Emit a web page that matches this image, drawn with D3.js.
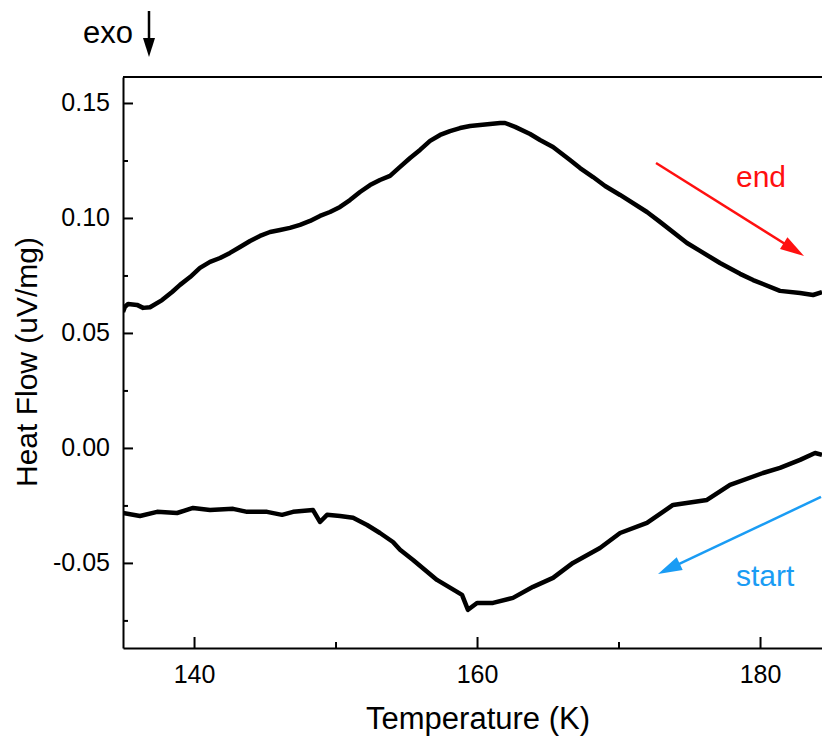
<!DOCTYPE html>
<html>
<head>
<meta charset="utf-8">
<script src="https://cdn.jsdelivr.net/npm/d3@7"></script>
<style>
  body { margin: 0; background: #fff; }
  svg text { font-family: "Liberation Sans", Arial, sans-serif; }
</style>
</head>
<body>
<script>
// curve (heating back = "end", top curve)
var endTemp = [134.98, 135.12, 135.34, 135.97, 136.40, 136.89, 137.74, 138.45, 139.01, 139.72,
  140.42, 141.13, 141.84, 142.54, 143.25, 143.96, 144.66, 145.37, 146.08, 146.78,
  147.49, 148.20, 148.90, 149.61, 150.32, 151.02, 151.73, 152.44, 153.14, 153.85,
  154.56, 155.27, 155.97, 156.68, 157.39, 158.09, 158.80, 159.51, 160.21, 160.92,
  161.63, 161.98, 162.69, 163.75, 164.45, 165.37, 166.57, 167.28, 168.20, 169.05,
  170.11, 172.01, 172.93, 174.84, 175.76, 177.17, 178.59, 179.51, 181.41, 182.83,
  183.75, 184.38];
var endFlow = [0.0591, 0.0614, 0.0626, 0.0622, 0.0609, 0.0612, 0.0643, 0.0678, 0.0709, 0.0743,
  0.0783, 0.0809, 0.0826, 0.0848, 0.0874, 0.0900, 0.0922, 0.0939, 0.0948, 0.0957,
  0.0970, 0.0987, 0.1009, 0.1026, 0.1048, 0.1078, 0.1113, 0.1143, 0.1165, 0.1183,
  0.1222, 0.1261, 0.1296, 0.1335, 0.1361, 0.1378, 0.1391, 0.1400, 0.1404, 0.1409,
  0.1413, 0.1413, 0.1396, 0.1365, 0.1339, 0.1309, 0.1252, 0.1217, 0.1178, 0.1139,
  0.1100, 0.1026, 0.0983, 0.0891, 0.0857, 0.0804, 0.0757, 0.0730, 0.0683, 0.0674,
  0.0665, 0.0678];

// cooling = "start", bottom curve
var startTemp = [134.98, 136.18, 137.39, 138.80, 139.93, 141.13, 142.76, 143.75, 145.16, 146.22,
  147.00, 148.41, 148.90, 149.40, 150.32, 151.24, 152.23, 153.14, 154.06, 154.56,
  155.48, 157.17, 158.59, 158.94, 159.36, 160.00, 161.13, 162.54, 163.96, 165.37,
  166.78, 168.69, 170.11, 172.01, 173.85, 176.25, 177.88, 180.21, 181.41, 182.83,
  183.89, 184.38];
var startFlow = [-0.0283, -0.0296, -0.0278, -0.0283, -0.0261, -0.0270, -0.0265, -0.0278, -0.0278, -0.0291,
  -0.0278, -0.0270, -0.0322, -0.0291, -0.0296, -0.0304, -0.0335, -0.0370, -0.0409, -0.0443,
  -0.0487, -0.0574, -0.0626, -0.0639, -0.0704, -0.0674, -0.0674, -0.0652, -0.0604, -0.0565,
  -0.0500, -0.0435, -0.0370, -0.0326, -0.0248, -0.0226, -0.0161, -0.0109, -0.0087, -0.0052,
  -0.0022, -0.0030];

var xTicks = [140, 160, 180];
var xMinor = [150, 170];
var yTicks = [-0.05, 0, 0.05, 0.10, 0.15];
var yTickLabels = ["-0.05", "0.00", "0.05", "0.10", "0.15"];
var yMinor = [-0.075, -0.025, 0.025, 0.075, 0.125];

var w = 822;
var h = 736;
var plotLeft = 123, plotRight = 822, plotTop = 77, plotBottom = 648;

var svg = d3.select("body")
  .append("svg")
  .attr("width", w)
  .attr("height", h);

var xScale = d3.scaleLinear()
  .domain([134.98, 184.38])
  .range([plotLeft, plotRight]);

var yScale = d3.scaleLinear()
  .domain([-0.087, 0.1613])
  .range([plotBottom, plotTop]);

svg.append("defs").append("clipPath")
  .attr("id", "plotClip")
  .append("rect")
  .attr("x", plotLeft).attr("y", plotTop)
  .attr("width", plotRight - plotLeft).attr("height", plotBottom - plotTop);

// minor ticks first, then major axes on top
svg.append("g")
  .attr("transform", `translate(0, ${plotBottom})`)
  .call(d3.axisBottom(xScale).tickValues(xMinor).tickSize(-6).tickFormat(""))
  .call(g => g.select(".domain").remove())
  .selectAll("line").attr("stroke-width", 2);

svg.append("g")
  .attr("transform", `translate(${plotLeft}, 0)`)
  .call(d3.axisLeft(yScale).tickValues(yMinor).tickSize(-5).tickFormat(""))
  .call(g => g.select(".domain").remove())
  .selectAll("line").attr("stroke-width", 2);

var xAxis = svg.append("g")
  .attr("transform", `translate(0, ${plotBottom})`)
  .call(d3.axisBottom(xScale).tickValues(xTicks).tickSizeInner(-11).tickSizeOuter(0).tickPadding(17));

var yAxis = svg.append("g")
  .attr("transform", `translate(${plotLeft}, 0)`)
  .call(d3.axisLeft(yScale).tickValues(yTicks)
    .tickFormat((d, i) => yTickLabels[i])
    .tickSizeInner(-10).tickSizeOuter(0).tickPadding(13));

[xAxis, yAxis].forEach(function (g) {
  g.attr("font-size", 25).attr("font-family", null);
  g.select(".domain").attr("stroke-width", 2);
  g.selectAll(".tick line").attr("stroke-width", 2);
  g.selectAll("text")
    .style("font-size", "25px")
    .attr("fill", "#000");
});

// top frame
svg.append("line")
  .attr("x1", plotLeft).attr("x2", plotRight)
  .attr("y1", plotTop).attr("y2", plotTop)
  .attr("stroke", "#000")
  .attr("stroke-width", 2);

var line = d3.line()
  .x(d => xScale(d[0]))
  .y(d => yScale(d[1]));

var curves = [d3.zip(endTemp, endFlow), d3.zip(startTemp, startFlow)];

svg.append("g")
  .attr("clip-path", "url(#plotClip)")
  .selectAll("path")
  .data(curves)
  .enter()
  .append("path")
  .attr("d", line)
  .attr("fill", "none")
  .attr("stroke", "#000")
  .attr("stroke-width", 4.5)
  .attr("stroke-linejoin", "round");

// axis titles
svg.append("text")
  .attr("x", 478)
  .attr("y", 729)
  .attr("text-anchor", "middle")
  .style("font-size", "31px")
  .text("Temperature (K)");

svg.append("text")
  .attr("transform", "translate(37, 362) rotate(-90)")
  .attr("text-anchor", "middle")
  .style("font-size", "30px")
  .text("Heat Flow (uV/mg)");

// exo marker
svg.append("text")
  .attr("x", 133)
  .attr("y", 43)
  .attr("text-anchor", "end")
  .style("font-size", "31px")
  .text("exo");

svg.append("line")
  .attr("x1", 149).attr("x2", 149)
  .attr("y1", 11).attr("y2", 42)
  .attr("stroke", "#000")
  .attr("stroke-width", 2.5);

svg.append("path")
  .attr("d", "M143,38 L155,38 L149,57 Z")
  .attr("fill", "#000");

// direction arrows
var arrows = [
  { from: [172.65, 0.1239], to: [183.11, 0.0835], color: "#ff1010", label: "end", lx: 736, ly: 187 },
  { from: [184.31, -0.0213], to: [172.79, -0.0548], color: "#1a9cf4", label: "start", lx: 736, ly: 586 }
];

arrows.forEach(function (a) {
  var x1 = xScale(a.from[0]), y1 = yScale(a.from[1]);
  var x2 = xScale(a.to[0]), y2 = yScale(a.to[1]);
  var ang = Math.atan2(y2 - y1, x2 - x1);
  var len = 24, half = 7;
  var bx = x2 - len * Math.cos(ang), by = y2 - len * Math.sin(ang);
  svg.append("line")
    .attr("x1", x1).attr("y1", y1)
    .attr("x2", bx + 4 * Math.cos(ang)).attr("y2", by + 4 * Math.sin(ang))
    .attr("stroke", a.color)
    .attr("stroke-width", 2.5);
  svg.append("path")
    .attr("d", `M${x2},${y2} L${bx + half * Math.sin(ang)},${by - half * Math.cos(ang)} L${bx - half * Math.sin(ang)},${by + half * Math.cos(ang)} Z`)
    .attr("fill", a.color);
  svg.append("text")
    .attr("x", a.lx)
    .attr("y", a.ly)
    .attr("fill", a.color)
    .style("font-size", "30px")
    .text(a.label);
});
</script>
</body>
</html>
